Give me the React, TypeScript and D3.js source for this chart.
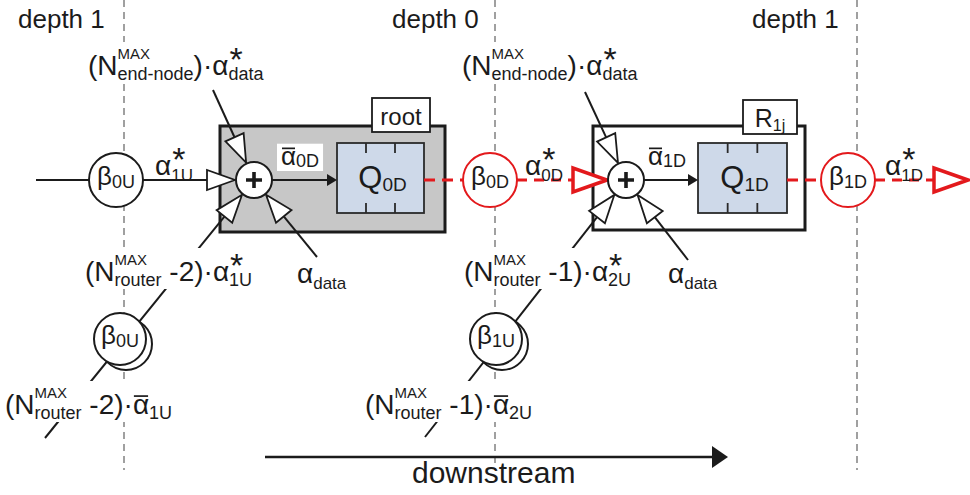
import * as d3 from "d3";

const FONT = '"Liberation Sans", Arial, Helvetica, sans-serif';
const INK = "#1b1b1b";
const RED = "#e3191c";
const DASH_GRAY = "#6e6e6e";
const PRE = { whiteSpace: "pre" };

// ---- text content ----
const depthLabels = ["depth 1", "depth 0", "depth 1"];
const routerTags = [{ t: "root" }, { t: "R", sub: "1j" }];
const queueSubs = ["0D", "1D"];
const mainBetaSubs = ["0U", "0D", "1D"];
const lowerBetaSubs = ["0U", "1U"];
const flowSubs = ["1U", "0D", "1D"];
const aggSubs = ["0D", "1D"];
const routerCounts = ["-2", "-1"];
const upstreamSubs = ["1U", "2U"];
const caption = "downstream";

// ---- layout ----
const W = 970;
const H = 495;
const lineY = 180;
const depthX = [124, 495, 857];
const depthLabelX = [18, 392, 752];
const sums = [
  [254, 180],
  [626, 180],
];
const sumR = 18;
const boxes = [
  { x: 220, y: 126, w: 225, h: 106, fill: "#c7c7c7" },
  { x: 593, y: 126, w: 212, h: 104, fill: "#ffffff" },
];
const tags = [
  { x: 372, y: 98, w: 58, h: 34 },
  { x: 743, y: 100, w: 54, h: 34 },
];
const queues = [
  { x: 337, y: 143, w: 87, h: 70 },
  { x: 698, y: 143, w: 89, h: 70 },
];
const betaR = 27;
const mainBetaX = [116, 490, 848];
const lowerBeta = [
  [120, 339],
  [496, 339],
];
const topLabelX = [88, 462];
const flowLabelX = [155, 525, 885];
const aggLabelX = [281, 648];
const upLabelX = [85, 464];
const dataLabelX = [297, 668];
const lowLabelX = [5, 365];
const endNodeFrom = [
  [213, 90],
  [585, 92],
];
const routerFrom = [
  [45, 438],
  [425, 437],
];
const dataFrom = [
  [317, 257],
  [688, 260],
];

// ---- text measuring ----
const ctx = document.createElement("canvas").getContext("2d");
const measure = (s, size) => {
  ctx.font = `${size}px ${FONT}`;
  return ctx.measureText(s).width;
};
const STAR_FS = 34;

const Label = ({
  x,
  y,
  parts,
  fs = 28,
  sfs = 17,
  subDy = 6,
  supFs = 15,
  supDy = -16,
  anchor = "start",
  bg = false,
  fill = INK,
}) => {
  const items = [];
  let cx = 0;
  parts.forEach((p) => {
    const w = measure(p.t, fs);
    items.push({ k: "main", s: p.t, x: cx, w, bar: p.bar });
    cx += w;
    let sw = 0;
    if (p.sup) {
      items.push({ k: "sup", s: p.sup, x: cx });
      sw = Math.max(sw, measure(p.sup, supFs));
    }
    if (p.star) {
      items.push({ k: "star", s: "*", x: cx + 1 });
      sw = Math.max(sw, measure("*", STAR_FS) + 1);
    }
    if (p.sub) {
      items.push({ k: "sub", s: p.sub, x: cx });
      sw = Math.max(sw, measure(p.sub, sfs));
    }
    cx += sw;
  });
  const width = cx;
  const x0 = anchor === "middle" ? x - width / 2 : x;
  const tall = parts.some((p) => p.sup || p.star);
  const top = y - (tall ? 32 : fs * 0.78) - 1;
  const bottom = y + Math.max(subDy, 3) + 3;
  return (
    <g fontFamily={FONT} fill={fill}>
      {bg && <rect x={x0 - 4} y={top} width={width + 8} height={bottom - top} fill="#fff" />}
      {items.map((it, i) => {
        if (it.k === "main")
          return (
            <g key={i}>
              <text x={x0 + it.x} y={y} fontSize={fs} xmlSpace="preserve" style={PRE}>
                {it.s}
              </text>
              {it.bar && (
                <line
                  x1={x0 + it.x + 1}
                  x2={x0 + it.x + it.w - 1}
                  y1={y - fs * 0.64}
                  y2={y - fs * 0.64}
                  stroke={fill}
                  strokeWidth={1.7}
                />
              )}
            </g>
          );
        if (it.k === "sup")
          return (
            <text key={i} x={x0 + it.x} y={y + supDy} fontSize={supFs}>
              {it.s}
            </text>
          );
        if (it.k === "star")
          return (
            <text key={i} x={x0 + it.x} y={y - 4} fontSize={STAR_FS}>
              *
            </text>
          );
        return (
          <text key={i} x={x0 + it.x} y={y + subDy} fontSize={sfs}>
            {it.s}
          </text>
        );
      })}
    </g>
  );
};

// arrow head with tip at `tip`, pointing away from `from`
const head = (tip, from, len, hw) => {
  const dx = tip[0] - from[0];
  const dy = tip[1] - from[1];
  const L = Math.hypot(dx, dy);
  const ux = dx / L;
  const uy = dy / L;
  const bx = tip[0] - ux * len;
  const by = tip[1] - uy * len;
  return {
    pts: [tip, [bx - uy * hw, by + ux * hw], [bx + uy * hw, by - ux * hw]],
    base: [bx, by],
  };
};
const onCircle = (c, from, r) => {
  const dx = c[0] - from[0];
  const dy = c[1] - from[1];
  const L = Math.hypot(dx, dy);
  return [c[0] - (dx / L) * r, c[1] - (dy / L) * r];
};
const line = d3.line();
const poly = (pts) => line(pts) + "Z";

const Input = ({ from, to, color = INK, dashed = false, big = false }) => {
  const h = head(to, from, big ? 34 : 28, big ? 12 : 10);
  return (
    <g>
      <path
        d={line([from, h.base])}
        stroke={color}
        strokeWidth={big ? 3 : 2}
        strokeDasharray={dashed ? "10,7" : null}
        fill="none"
      />
      <path d={poly(h.pts)} fill="#fff" stroke={color} strokeWidth={big ? 3.5 : 1.8} />
    </g>
  );
};

export default function App() {
  const redSeg = (x1, x2) => (
    <path d={line([[x1, lineY], [x2, lineY]])} stroke={RED} strokeWidth={3} strokeDasharray="11,7" />
  );
  return (
    <svg width={W} height={H} style={{ position: "absolute", left: 0, top: 0, background: "#fff" }}>
      {/* depth separators */}
      {depthX.map((x, i) => (
        <path key={i} d={line([[x, 0], [x, 470]])} stroke={DASH_GRAY} strokeWidth={1.3} strokeDasharray="7,5" />
      ))}
      {depthLabels.map((t, i) => (
        <text key={i} x={depthLabelX[i]} y={28} fontSize={26} fontFamily={FONT} fill={INK}>
          {t}
        </text>
      ))}

      {/* router boxes */}
      {boxes.map((b, i) => (
        <rect key={i} x={b.x} y={b.y} width={b.w} height={b.h} fill={b.fill} stroke={INK} strokeWidth={3} />
      ))}
      {tags.map((b, i) => (
        <g key={i}>
          <rect x={b.x} y={b.y} width={b.w} height={b.h} fill="#fff" stroke={INK} strokeWidth={1.8} />
          <Label
            x={b.x + b.w / 2}
            y={b.y + 27}
            parts={[routerTags[i]]}
            fs={i === 0 ? 24 : 25}
            sfs={16}
            subDy={4}
            anchor="middle"
          />
        </g>
      ))}
      {queues.map((q, i) => {
        const t1 = q.x + q.w / 3;
        const t2 = q.x + (2 * q.w) / 3;
        return (
          <g key={i}>
            <rect x={q.x} y={q.y} width={q.w} height={q.h} fill="#ced9e9" stroke="#2a2a2a" strokeWidth={1.8} />
            {[t1, t2].map((tx, j) => (
              <g key={j}>
                <line x1={tx} x2={tx} y1={q.y} y2={q.y + 10} stroke="#2a2a2a" strokeWidth={1.8} />
                <line x1={tx} x2={tx} y1={q.y + q.h - 10} y2={q.y + q.h} stroke="#2a2a2a" strokeWidth={1.8} />
              </g>
            ))}
            <Label
              x={q.x + q.w / 2 + 2}
              y={188}
              parts={[{ t: "Q", sub: queueSubs[i] }]}
              fs={31}
              sfs={19}
              subDy={3}
              anchor="middle"
            />
          </g>
        );
      })}

      {/* leftmost input and sum -> queue arrows */}
      <path d={line([[36, lineY], [mainBetaX[0] - betaR, lineY]])} stroke={INK} strokeWidth={2} />
      {sums.map((c, i) => {
        const tip = [queues[i].x, lineY];
        const h = head(tip, c, 10, 6);
        return (
          <g key={i}>
            <path d={line([[c[0] + sumR, lineY], h.base])} stroke={INK} strokeWidth={2} />
            <path d={poly(h.pts)} fill={INK} />
          </g>
        );
      })}

      {/* red downstream dashed links */}
      {redSeg(queues[0].x + queues[0].w, mainBetaX[1] - betaR)}
      {redSeg(queues[1].x + queues[1].w, mainBetaX[2] - betaR)}
      <Input from={[mainBetaX[1] + betaR, lineY]} to={[sums[1][0] - sumR - 1, lineY]} color={RED} dashed big />
      <Input from={[mainBetaX[2] + betaR, lineY]} to={[968, lineY]} color={RED} dashed big />

      {/* inputs of the two adders */}
      <Input from={[mainBetaX[0] + betaR, lineY]} to={[sums[0][0] - sumR - 1, lineY]} />
      {sums.map((c, i) => (
        <g key={i}>
          <Input from={endNodeFrom[i]} to={onCircle(c, endNodeFrom[i], sumR + 1)} />
          <Input from={routerFrom[i]} to={onCircle(c, routerFrom[i], sumR + 1)} />
          <Input from={dataFrom[i]} to={onCircle(c, dataFrom[i], sumR + 1)} />
        </g>
      ))}

      {/* adders */}
      {sums.map((c, i) => (
        <g key={i}>
          <circle cx={c[0]} cy={c[1]} r={sumR} fill="#fff" stroke={INK} strokeWidth={2} />
          <path d={`M${c[0] - 8},${c[1]}H${c[0] + 8}M${c[0]},${c[1] - 8}V${c[1] + 8}`} stroke={INK} strokeWidth={3.6} />
        </g>
      ))}

      {/* beta servers on the main line */}
      {mainBetaX.map((x, i) => (
        <g key={i}>
          <circle cx={x} cy={lineY} r={betaR} fill="#fff" stroke={i === 0 ? INK : RED} strokeWidth={2} />
          <Label x={x} y={lineY + 5} parts={[{ t: "β", sub: mainBetaSubs[i] }]} fs={26} sfs={18} subDy={3} anchor="middle" />
        </g>
      ))}

      {/* stacked upstream beta servers */}
      {lowerBeta.map((c, i) => (
        <g key={i}>
          <circle cx={c[0] + 6} cy={c[1] + 5} r={26} fill="#fff" stroke={INK} strokeWidth={2} />
          <circle cx={c[0]} cy={c[1]} r={26} fill="#fff" stroke={INK} strokeWidth={2} />
          <Label x={c[0]} y={c[1] + 5} parts={[{ t: "β", sub: lowerBetaSubs[i] }]} fs={26} sfs={18} subDy={3} anchor="middle" />
        </g>
      ))}

      {/* flow labels */}
      {topLabelX.map((x, i) => (
        <Label
          key={i}
          x={x}
          y={75}
          bg
          sfs={18}
          subDy={5}
          parts={[
            { t: "(N", sup: "MAX", sub: "end-node" },
            { t: ")·α", star: true, sub: "data" },
          ]}
        />
      ))}
      {flowLabelX.map((x, i) => (
        <Label key={i} x={x} y={175} parts={[{ t: "α", star: true, sub: flowSubs[i] }]} />
      ))}
      {aggLabelX.map((x, i) => (
        <Label key={i} x={x} y={165} fs={26} sfs={18} subDy={2} bg={i === 0} parts={[{ t: "α", bar: true, sub: aggSubs[i] }]} />
      ))}
      {upLabelX.map((x, i) => (
        <Label
          key={i}
          x={x}
          y={281}
          bg
          sfs={18}
          subDy={5}
          parts={[
            { t: "(N", sup: "MAX", sub: "router" },
            { t: ` ${routerCounts[i]})·α`, star: true, sub: upstreamSubs[i] },
          ]}
        />
      ))}
      {dataLabelX.map((x, i) => (
        <Label key={i} x={x} y={283} parts={[{ t: "α", sub: "data" }]} />
      ))}
      {lowLabelX.map((x, i) => (
        <Label
          key={i}
          x={x}
          y={414}
          bg
          sfs={18}
          subDy={5}
          parts={[
            { t: "(N", sup: "MAX", sub: "router" },
            { t: ` ${routerCounts[i]})·` },
            { t: "α", bar: true, sub: upstreamSubs[i] },
          ]}
        />
      ))}

      {/* downstream arrow */}
      <path d={line([[265, 457], [714, 457]])} stroke={INK} strokeWidth={2.6} />
      <path d={poly([[728, 457], [712, 446], [712, 468]])} fill={INK} />
      <text x={412} y={483} fontSize={30} fontFamily={FONT} fill={INK}>
        {caption}
      </text>
    </svg>
  );
}
